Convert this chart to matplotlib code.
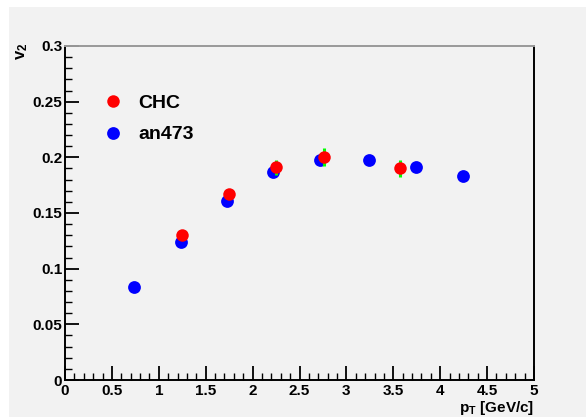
import matplotlib
matplotlib.use("Agg")
import matplotlib.pyplot as plt
from matplotlib.ticker import MultipleLocator, FuncFormatter
from matplotlib.patches import Rectangle

# ---- data ----
an473_pt = [0.74, 1.24, 1.73, 2.22, 2.72, 3.24, 3.74, 4.24]
an473_v2 = [0.0835, 0.124, 0.161, 0.187, 0.198, 0.198, 0.191, 0.183]

chc_pt = [1.25, 1.75, 2.25, 2.76, 3.57]
chc_v2 = [0.130, 0.167, 0.191, 0.200, 0.190]
chc_err = [0.003, 0.003, 0.007, 0.008, 0.008]

x_ticks = [0, 0.5, 1, 1.5, 2, 2.5, 3, 3.5, 4, 4.5, 5]
y_ticks = [0, 0.05, 0.1, 0.15, 0.2, 0.25, 0.3]

plt.rcParams['font.family'] = ['Liberation Sans', 'DejaVu Sans']
plt.rcParams['font.weight'] = 'bold'
plt.rcParams['mathtext.fontset'] = 'custom'
plt.rcParams['mathtext.rm'] = 'Liberation Sans:bold'
plt.rcParams['mathtext.bf'] = 'Liberation Sans:bold'
plt.rcParams['mathtext.it'] = 'Liberation Sans:bold'

W, H = 586, 417
fig = plt.figure(figsize=(W / 100, H / 100), dpi=100)
fig.patch.set_facecolor('white')
fig.patches.append(Rectangle((9 / W, 0), 1 - 9 / W, 1 - 7 / H, transform=fig.transFigure,
                             facecolor='#f2f2f2', edgecolor='none', zorder=-10))

left, right, top, bottom = 65, 534, 46, 380
ax = fig.add_axes([left / W, (H - bottom) / H, (right - left) / W, (bottom - top) / H])
ax.set_facecolor('#f2f2f2')

ax.plot(an473_pt, an473_v2, 'o', color='#0000ff', ms=9.2, mec='none', label='an473', zorder=3)
ax.errorbar(chc_pt, chc_v2, yerr=chc_err, fmt='none', ecolor='#00ff00', elinewidth=2.2,
            capsize=0, zorder=4)
ax.plot(chc_pt, chc_v2, 'o', color='#ff0000', ms=9.0, mec='none', label='CHC', zorder=5)

ax.set_xlim(0, 5)
ax.set_ylim(0, 0.3)
ax.set_xticks(x_ticks)
ax.set_yticks(y_ticks)
ax.xaxis.set_minor_locator(MultipleLocator(0.1))
ax.yaxis.set_minor_locator(MultipleLocator(0.01))
fmt = FuncFormatter(lambda v, p: ('%g' % round(v, 4)))
ax.xaxis.set_major_formatter(fmt)
ax.yaxis.set_major_formatter(fmt)

ax.tick_params(which='major', direction='in', length=10, width=1.3, labelsize=11, pad=3)
ax.tick_params(which='minor', direction='in', length=5, width=1.0)
ax.tick_params(axis='x', which='both', top=False)
ax.tick_params(axis='y', which='both', right=False)
ax.tick_params(axis='y', pad=2)
for lab in ax.get_xticklabels() + ax.get_yticklabels():
    lab.set_fontweight('bold')

for s in ['left', 'bottom', 'right']:
    ax.spines[s].set_color('black')
    ax.spines[s].set_linewidth(1.4)
ax.spines['top'].set_color('#999999')
ax.spines['top'].set_linewidth(1.4)

ax.set_ylabel(r'$\mathbf{v}_{\mathbf{2}}$', fontsize=12, loc='top')
ax.yaxis.set_label_coords(-0.075, 1.01)
ax.set_xlabel(r'$\mathbf{p}_{\mathbf{T}}$ [GeV/c]', fontsize=11, fontweight='bold', loc='right')
ax.xaxis.set_label_coords(1.0, -0.056)

h, l = ax.get_legend_handles_labels()
leg = ax.legend([h[1], h[0]], [l[1], l[0]], loc='center left',
                bbox_to_anchor=(0.065, 0.782), frameon=False, prop={'size': 14, 'weight': 'bold'},
                handlelength=1.0, handletextpad=0.8, labelspacing=0.72, borderaxespad=0)

fig.savefig('out.png', dpi=100, facecolor=fig.get_facecolor())
